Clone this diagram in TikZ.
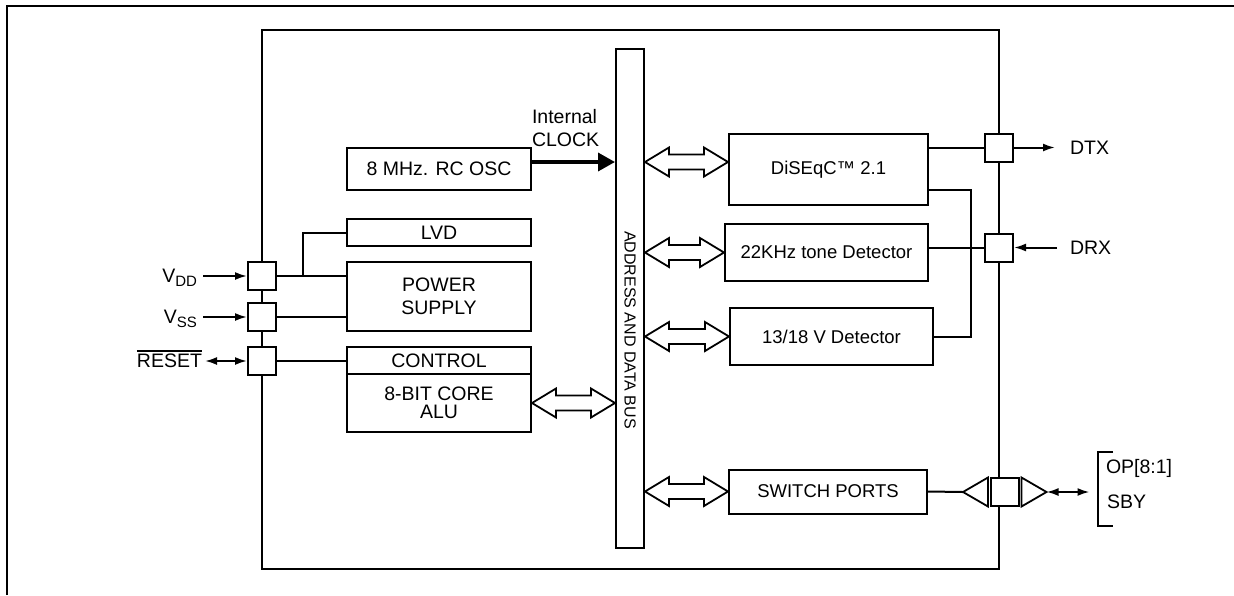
\documentclass[tikz,border=0pt]{standalone}
\usepackage{amsmath}
\usepackage{fontspec}
\setmainfont{Liberation Sans}
\usetikzlibrary{positioning,calc,arrows.meta}

% open double arrow between two points on one level
\newcommand{\busarrow}[2]{%
  \draw[bus arrow] (#1) -- ++(24,-14.5) -- ++(0,7) -- ($(#2)+(-24,-7.5)$)
    -- ++(0,-7) -- (#2) -- ++(-24,14.5) -- ++(0,-7) -- ($(#1)+(24,7.5)$)
    -- ++(0,7) -- cycle;}
% pin name with a lowered index
\newcommand{\pinsub}[2]{#1\raisebox{-4pt}{\fontsize{15}{15}\selectfont #2}}

\begin{document}
\begin{tikzpicture}[x=1pt, y=-1pt, line width=2pt,
    font=\fontsize{19.5}{23}\selectfont,
    block node/.style={draw, inner sep=0pt, minimum width=184pt, align=center},
    unit node/.style={draw, inner sep=0pt, align=center, font=\fontsize{18.5}{22}\selectfont},
    pad node/.style={draw, fill=white, minimum size=28pt, inner sep=0pt},
    pin node/.style={inner sep=0pt, outer sep=6pt, text height=13.9pt, text depth=0pt},
    bus arrow/.style={line width=1.8pt, line join=miter},
    pin arrow/.style={-{Latex[length=12pt,width=8pt]}},
    both arrow/.style={{Latex[length=12pt,width=8pt]}-{Latex[length=12pt,width=8pt]}}]

\useasboundingbox (0,0) rectangle (1234,595);

% frame and chip
\draw[line width=1.3pt] (7,595) -- (7,6) -- (1234,6);
\draw (262,30) rectangle (999,569);

% bus
\node[draw, minimum width=28pt, minimum height=499pt, inner sep=0pt] (bus) at (630,298.5) {};
\node[rotate=-90, font=\fontsize{16}{18}\selectfont] at (630,330) {ADDRESS AND DATA BUS};

% left blocks
\node[block node, minimum height=42pt] (osc) at (439,169) {8 MHz. RC OSC};
\node[block node, minimum height=27pt] (lvd) at (439,232.5) {LVD};
\node[block node, minimum height=69pt] (ps) at (439,296.5) {POWER\\SUPPLY};
\node[block node, minimum height=27pt] (ctrl) at (439,360.5) {CONTROL};
\node[block node, minimum height=58pt, below=-2pt of ctrl,
      font=\fontsize{19.5}{18}\selectfont] (alu) {8-BIT CORE\\ALU};

% right blocks
\node[unit node, minimum width=199pt, minimum height=71pt] (dis) at (828.5,169.5) {DiSEqC™ 2.1};
\node[unit node, minimum width=203pt, minimum height=57pt] (tone) at (826.5,252.5) {22KHz tone Detector};
\node[unit node, minimum width=203pt, minimum height=57pt] (vdet) at (831.5,336.5) {13/18 V Detector};
\node[unit node, minimum width=198pt, minimum height=44pt] (sw) at (828,491.5) {SWITCH PORTS};

% pads
\node[pad node] (vdd) at (262,276) {};
\node[pad node] (vss) at (262,317) {};
\node[pad node] (rst) at (262,361) {};
\node[pad node] (dtx) at (999,147.5) {};
\node[pad node] (drx) at (999,247.5) {};
\node[pad node] (swp) at (1005,492) {};

% left pins
\coordinate[left=44pt of vdd.west] (vddo);
\coordinate[left=44pt of vss.west] (vsso);
\coordinate[left=42pt of rst.west] (rsto);
\node[pin node, left=0pt of vddo] {\pinsub{V}{DD}};
\node[pin node, left=0pt of vsso] {\pinsub{V}{SS}};
\node[pin node, left=-3pt of rsto] (rstl) {RESET};
\draw[line width=1.3pt] ([xshift=6pt,yshift=-3pt]rstl.north west) -- ([xshift=-6pt,yshift=-3pt]rstl.north east);
\draw[pin arrow] (vddo) -- (vdd);
\draw[pin arrow] (vsso) -- (vss);
\draw[both arrow] (rsto) -- (rst);

% supply and control lines
\coordinate (vj) at ($(vdd.east)!0.38!(ps.west |- vdd)$);
\draw (vdd) -- (ps.west |- vdd);
\draw (vj) |- (lvd.west);
\draw (vss) -- (ps.west |- vss);
\draw (rst) -- (ctrl.west |- rst);

% clock
\coordinate (ck) at ([yshift=7pt]osc.east);
\draw[line width=3.5pt, -{Triangle[length=17pt,width=18pt]}] (ck) -- (bus.west |- ck);
\node[align=left, anchor=west, inner sep=0pt] (ckl) at (531,128.5) {Internal\\CLOCK};

% bus arrows
\coordinate (a1) at ([yshift=7.5pt]dis.west);
\coordinate (b1) at (bus.east |- a1);
\coordinate (a2) at (tone.west);
\coordinate (b2) at (bus.east |- a2);
\coordinate (a3) at (vdet.west);
\coordinate (b3) at (bus.east |- a3);
\coordinate (a4) at (sw.west);
\coordinate (b4) at (bus.east |- a4);
\coordinate (a5) at (alu.east);
\coordinate (b5) at (bus.west |- a5);
\busarrow{b1}{a1}
\busarrow{b2}{a2}
\busarrow{b3}{a3}
\busarrow{b4}{a4}
\busarrow{a5}{b5}

% right side lines
\draw (dtx) -- (dtx -| dis.east);
\draw (drx) -- (drx -| tone.east);
\coordinate (rj) at (971,190);
\draw (rj -| dis.east) -- (rj) |- (vdet.east);

% right pins
\coordinate[right=41pt of dtx.east] (dtxo);
\coordinate[right=43pt of drx.east] (drxo);
\draw[pin arrow] (dtx) -- (dtxo);
\draw[pin arrow] (drxo) -- (drx);
\node[pin node, right=9pt of dtxo] {DTX};
\node[pin node, right=7pt of drxo] {DRX};

% switch port buffers
\draw[line width=1.8pt] (swp.west) ++(-2,-14.5) -- ++(0,29) -- ++(-25,-14.5) coordinate (tlt) -- cycle;
\draw[line width=1.8pt] (swp.east) ++(1.5,-14.5) -- ++(0,29) -- ++(25,-14.5) coordinate (trt) -- cycle;
\draw (sw.east) -- (tlt);
\coordinate[right=43pt of trt] (opo);
\draw[both arrow] (trt) -- (opo);
\draw (1113,452) -- (1098,452) -- (1098,526) -- (1113,526);
\node[anchor=west, inner sep=0pt] (op) at (1105,468) {OP[8:1]};
\node[anchor=west, inner sep=0pt] (sby) at (1106,502) {SBY};

\end{tikzpicture}
\end{document}
